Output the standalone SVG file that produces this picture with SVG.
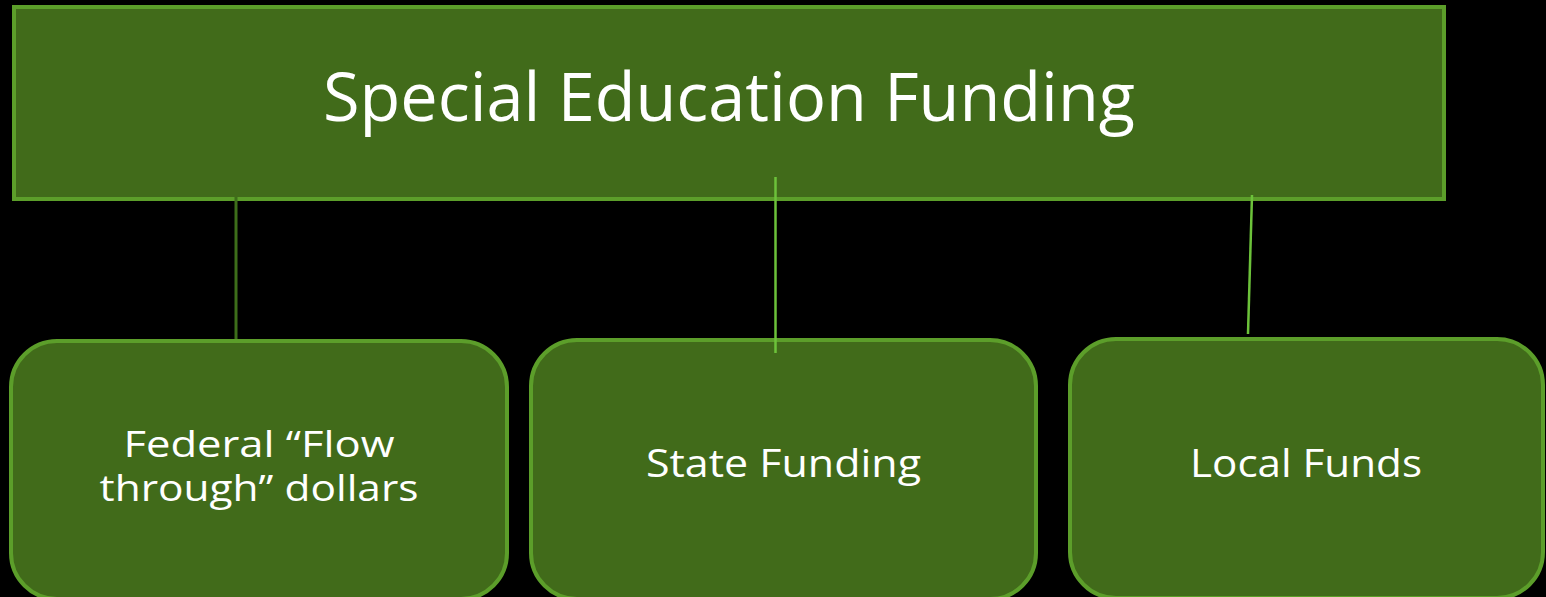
<svg xmlns="http://www.w3.org/2000/svg" width="1546" height="597" viewBox="0 0 1546 597">
<style>
.box{fill:#416b1a;stroke:#5c9e2a;stroke-width:4}
.t{fill:#ffffff;font-family:"Open Sans","Liberation Sans",sans-serif;text-anchor:middle}
.sub{font-size:39px}
.f{font-size:37px}
</style>
<rect width="1546" height="597" fill="#000000"/>
<g id="top">
<rect class="box" x="14" y="7" width="1430" height="192"/>
<text class="t" x="729" y="121" font-size="68" textLength="812" lengthAdjust="spacingAndGlyphs">Special Education Funding</text>
</g>
<g id="federal">
<rect class="box" x="11" y="341" width="496" height="258" rx="46"/>
<text class="t f" x="259" y="457" textLength="271" lengthAdjust="spacingAndGlyphs">Federal “Flow</text>
<text class="t f" x="259" y="501" textLength="319" lengthAdjust="spacingAndGlyphs">through” dollars</text>
</g>
<g id="state">
<rect class="box" x="531" y="340" width="505" height="259" rx="46"/>
<text class="t sub" x="783.5" y="477" textLength="275" lengthAdjust="spacingAndGlyphs">State Funding</text>
</g>
<g id="local">
<rect class="box" x="1070" y="339" width="473" height="259" rx="46"/>
<text class="t sub" x="1306" y="477" textLength="232" lengthAdjust="spacingAndGlyphs">Local Funds</text>
</g>
<g id="connectors">
<line x1="236" y1="197" x2="236" y2="339" stroke="#3d6e1a" stroke-width="3"/>
<line x1="775.5" y1="177" x2="775.5" y2="353" stroke="#6cc23a" stroke-width="2.5"/>
<line x1="1252" y1="195" x2="1248" y2="334" stroke="#6cc23a" stroke-width="2.5"/>
</g>
</svg>
